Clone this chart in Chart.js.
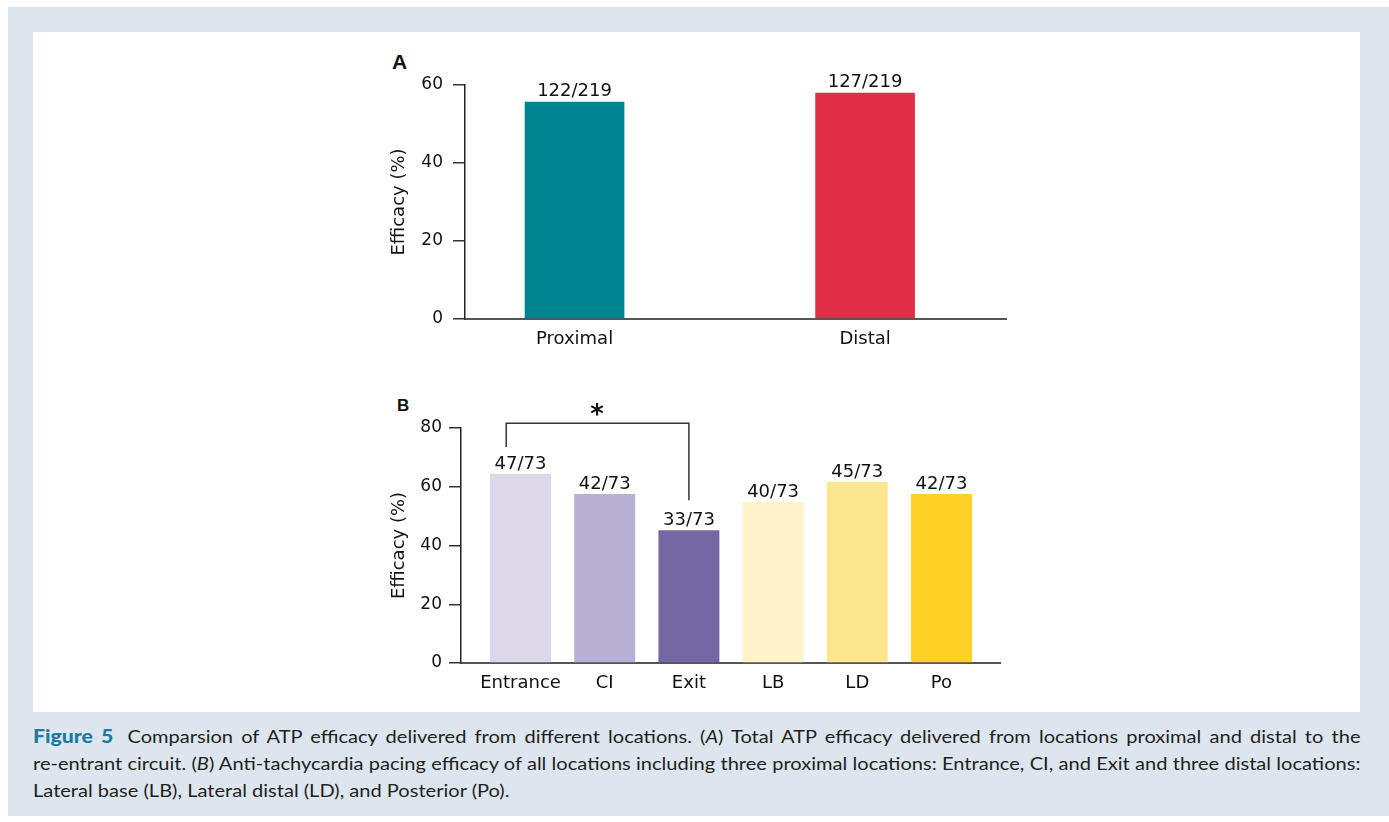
<!DOCTYPE html>
<html>
<head>
<meta charset="utf-8">
<script src="https://cdn.jsdelivr.net/npm/chart.js@4.4.1/dist/chart.umd.min.js"></script>
<style>
  html, body { margin: 0; padding: 0; background: #fff; }
  #page { position: relative; width: 1389px; height: 822px; overflow: hidden; }
  #frame { position: absolute; left: 8px; top: 7px; width: 1381px; height: 809px; background: #dde6ef; }
  #panel { position: absolute; left: 33px; top: 32px; width: 1327px; height: 680px; background: #fff; }
  .box { position: absolute; }
  .tag { position: absolute; font-family: "Liberation Sans", Arial, sans-serif; font-weight: bold; color: #111; }
  #caption { position: absolute; left: 33px; top: 723px; width: 1125px; font-family: Lato, sans-serif;
             font-size: 17px; line-height: 27px; color: #231f20;
             transform: scaleX(1.18); transform-origin: left top; }
  #caption div { text-align: justify; text-align-last: justify; white-space: nowrap; }
  #caption div.last { text-align-last: left; }
  #caption b { color: #1b7aa0; font-size: 18px; font-weight: 900; margin-right: 5px; }
</style>
</head>
<body>
<div id="page">
  <div id="frame"></div>
  <div id="panel"></div>
  <div class="tag" style="left:392px; top:50px; font-size:21px;">A</div>
  <div class="tag" style="left:397px; top:396px; font-size:17px;">B</div>
  <div class="box" style="left:380px; top:40px;"><canvas id="chartA" width="660" height="320"></canvas></div>
  <div class="box" style="left:380px; top:390px;"><canvas id="chartB" width="660" height="310"></canvas></div>
  <div id="caption">
    <div id="cap1"><b>Figure 5</b> Comparsion of ATP efficacy delivered from different locations. (<i>A</i>) Total ATP efficacy delivered from locations proximal and distal to the</div>
    <div id="cap2">re-entrant circuit. (<i>B</i>) Anti-tachycardia pacing efficacy of all locations including three proximal locations: Entrance, CI, and Exit and three distal locations:</div>
    <div class="last">Lateral base (LB), Lateral distal (LD), and Posterior (Po).</div>
  </div>
</div>
<script>
// Panel A: proximal vs distal
const catsA = ['Proximal', 'Distal'];
const valuesA = [55.7, 58.0];
const countsA = ['122/219', '127/219'];
const colorsA = ['#008491', '#e02e47'];
const ticksA = [0, 20, 40, 60];

// Panel B: six pacing locations
const catsB = ['Entrance', 'CI', 'Exit', 'LB', 'LD', 'Po'];
const valuesB = [64.4, 57.5, 45.2, 54.8, 61.6, 57.5];
const countsB = ['47/73', '42/73', '33/73', '40/73', '45/73', '42/73'];
const colorsB = ['#dcd8ea', '#b8b1d4', '#7566a4', '#fff3c9', '#fde690', '#ffd025'];
const ticksB = [0, 20, 40, 60, 80];

// significance bracket between Entrance and Exit (data units)
const bracketX = [-0.17, 2];
const bracketTop = 81.6;
const bracketEnds = [73.5, 55.4];
const starPos = [0.91, 81.8];

const FONT = '"DejaVu Sans", sans-serif';

// shrink word spacing if a caption line would run past the panel
['cap1', 'cap2'].forEach(id => {
    const el = document.getElementById(id);
    const box = el.clientWidth;
    let ws = 0;
    while (el.scrollWidth > box && ws > -4) {
        ws -= 0.25;
        el.style.wordSpacing = ws + 'px';
    }
});

// writes the n/N counts above each bar
const countLabels = {
    id: 'countLabels',
    afterDatasetsDraw(chart, args, opts) {
        const ctx = chart.ctx;
        const bars = chart.getDatasetMeta(0).data;
        ctx.save();
        ctx.font = '18px ' + FONT;
        ctx.fillStyle = '#111';
        ctx.textAlign = 'center';
        ctx.textBaseline = 'alphabetic';
        bars.forEach((bar, i) => {
            ctx.fillText(opts.texts[i], bar.x, bar.y - opts.gap);
        });
        ctx.restore();
    }
};

const bracket = {
    id: 'bracket',
    afterDraw(chart) {
        const x = chart.scales.x, y = chart.scales.y;
        const ctx = chart.ctx;
        const x1 = x.getPixelForValue(bracketX[0]);
        const x2 = x.getPixelForValue(bracketX[1]);
        const yt = y.getPixelForValue(bracketTop);
        ctx.save();
        ctx.strokeStyle = '#333';
        ctx.lineWidth = 1.5;
        ctx.beginPath();
        ctx.moveTo(x1, y.getPixelForValue(bracketEnds[0]));
        ctx.lineTo(x1, yt);
        ctx.lineTo(x2, yt);
        ctx.lineTo(x2, y.getPixelForValue(bracketEnds[1]));
        ctx.stroke();
        ctx.font = 'bold 26px ' + FONT;
        ctx.fillStyle = '#111';
        ctx.textAlign = 'center';
        ctx.fillText('*', x.getPixelForValue(starPos[0]), y.getPixelForValue(starPos[1]));
        ctx.restore();
    }
};

function makeChart(id, cats, values, counts, colors, ticks, cfg) {
    const points = values.map((v, i) => ({ x: i, y: v }));
    return new Chart(document.getElementById(id), {
        type: 'bar',
        data: {
            datasets: [{
                data: points,
                backgroundColor: colors,
                borderWidth: 0,
                barPercentage: cfg.barPct,
                categoryPercentage: 1
            }]
        },
        plugins: cfg.plugins,
        options: {
            responsive: false,
            devicePixelRatio: 1,
            animation: false,
            layout: { padding: cfg.padding },
            plugins: {
                legend: { display: false },
                tooltip: { enabled: false },
                countLabels: { texts: counts, gap: cfg.gap }
            },
            scales: {
                x: {
                    type: 'linear',
                    min: cfg.xmin,
                    max: cfg.xmax,
                    offset: false,
                    grid: { display: false, offset: false },
                    border: { color: '#555', width: 2 },
                    afterFit: s => { s.height = cfg.xHeight; },
                    afterBuildTicks: s => { s.ticks = cats.map((c, i) => ({ value: i })); },
                    ticks: {
                        autoSkip: false,
                        maxRotation: 0,
                        padding: cfg.xPad,
                        color: '#111',
                        font: { family: FONT, size: 18 },
                        callback: v => cats[v]
                    }
                },
                y: {
                    min: 0,
                    max: ticks[ticks.length - 1],
                    afterFit: s => { s.width = cfg.yWidth; },
                    afterBuildTicks: s => { s.ticks = ticks.map(v => ({ value: v })); },
                    grid: { drawOnChartArea: false, tickLength: 12, color: '#333', lineWidth: 1.5 },
                    border: { color: '#222', width: 1.5 },
                    ticks: {
                        padding: cfg.yPad,
                        color: '#111',
                        font: { family: FONT, size: 17 }
                    },
                    title: {
                        display: true,
                        text: 'Efficacy (%)',
                        color: '#111',
                        font: { family: FONT, size: 18 },
                        padding: { top: 4, bottom: 0 }
                    }
                }
            }
        }
    });
}

makeChart('chartA', catsA, valuesA, countsA, colorsA, ticksA, {
    padding: { left: 5, right: 34, top: 45, bottom: 6 },
    xmin: -0.377, xmax: 1.485, barPct: 0.343,
    xHeight: 35, yWidth: 80, xPad: 2, yPad: 10, gap: 6,
    plugins: [countLabels]
});

makeChart('chartB', catsB, valuesB, countsB, colorsB, ticksB, {
    padding: { left: 5, right: 40, top: 38, bottom: 2 },
    xmin: -0.707, xmax: 5.695, barPct: 0.724,
    xHeight: 35, yWidth: 76, xPad: 2, yPad: 7, gap: 5,
    plugins: [countLabels, bracket]
});
</script>
</body>
</html>
